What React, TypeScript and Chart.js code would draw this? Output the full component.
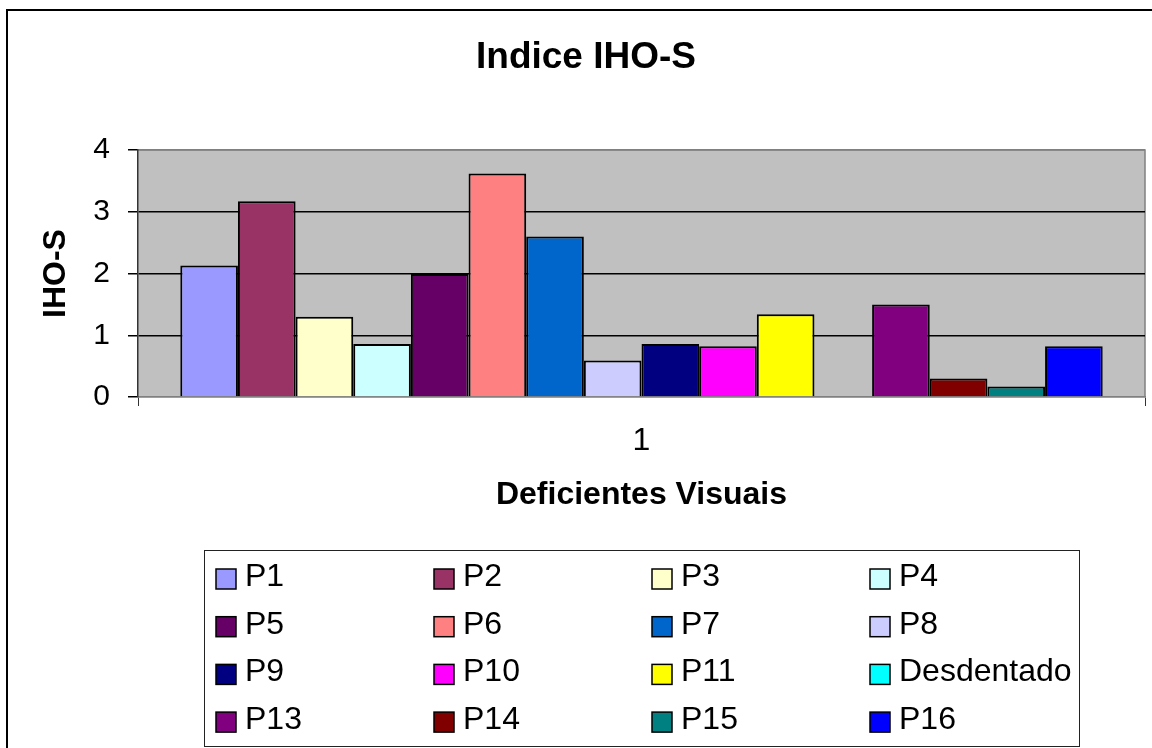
import React, { useEffect, useRef } from 'react';
import { Chart, registerables } from 'chart.js';

Chart.register(...registerables);

const categories = ['1'];
const seriesLabels = ['P1', 'P2', 'P3', 'P4', 'P5', 'P6', 'P7', 'P8', 'P9', 'P10', 'P11', 'Desdentado', 'P13', 'P14', 'P15', 'P16'];
const seriesValues = [2.13, 3.17, 1.3, 0.86, 1.99, 3.62, 2.6, 0.59, 0.86, 0.82, 1.34, 0, 1.5, 0.3, 0.17, 0.82];
const seriesColors = ['#9999FF', '#993366', '#FFFFCC', '#CCFFFF', '#660066', '#FF8080', '#0066CC', '#CCCCFF', '#000080', '#FF00FF', '#FFFF00', '#00FFFF', '#800080', '#800000', '#008080', '#0000FF'];
const yTickValues = [0, 1, 2, 3, 4];
const chartTitle = 'Indice IHO-S';
const xAxisTitle = 'Deficientes Visuais';
const yAxisTitle = 'IHO-S';

const FONT = '"Liberation Sans", Arial, Helvetica, sans-serif';

const decorPlugin = {
  id: 'decor',
  beforeDraw(chart: any) {
    const { ctx, chartArea: a } = chart;
    ctx.save();
    ctx.fillStyle = '#ffffff';
    ctx.fillRect(0, 0, chart.width, chart.height);
    ctx.fillStyle = '#C0C0C0';
    ctx.fillRect(a.left, a.top, a.right - a.left, a.bottom - a.top);
    ctx.strokeStyle = '#808080';
    ctx.lineWidth = 1.5;
    ctx.beginPath();
    ctx.moveTo(a.left, a.top);
    ctx.lineTo(a.right, a.top);
    ctx.lineTo(a.right, a.bottom);
    ctx.stroke();
    ctx.restore();
  },
  afterDraw(chart: any) {
    const { ctx } = chart;
    ctx.save();
    // outer chart border
    ctx.strokeStyle = '#000';
    ctx.lineWidth = 2;
    ctx.beginPath();
    ctx.moveTo(7, chart.height);
    ctx.lineTo(7, 10);
    ctx.lineTo(chart.width, 10);
    ctx.stroke();

    // title
    ctx.fillStyle = '#000';
    ctx.font = `bold 37px ${FONT}`;
    ctx.textAlign = 'center';
    ctx.textBaseline = 'middle';
    ctx.fillText(chartTitle, 586, 58);

    // legend
    const bx = 204.5, by = 550.5, bw = 875, bh = 196;
    ctx.strokeStyle = '#222';
    ctx.lineWidth = 1;
    ctx.strokeRect(bx, by, bw, bh);
    ctx.font = `32px ${FONT}`;
    ctx.textAlign = 'left';
    ctx.textBaseline = 'middle';
    chart.data.datasets.forEach((ds: any, i: number) => {
      const col = i % 4;
      const row = Math.floor(i / 4);
      const sx = 216 + col * 218;
      const cy = 579 + row * 47.7;
      ctx.fillStyle = ds.backgroundColor;
      ctx.fillRect(sx, cy - 10, 20, 20);
      ctx.strokeStyle = '#000';
      ctx.lineWidth = 1.5;
      ctx.strokeRect(sx, cy - 10, 20, 20);
      ctx.fillStyle = '#000';
      ctx.fillText(ds.label, sx + 29, cy - 2);
    });
    ctx.restore();
  },
};

export default function App() {
  const canvasRef = useRef<HTMLCanvasElement | null>(null);

  useEffect(() => {
    if (!canvasRef.current) return;
    const datasets = seriesLabels.map((label, i) => ({
      label,
      data: [seriesValues[i]],
      backgroundColor: seriesColors[i],
      borderColor: '#000',
      borderWidth: (c: any) => (c.raw === 0 ? 0 : 2),
      borderSkipped: 'bottom' as const,
    }));
    const chart = new Chart(canvasRef.current, {
      type: 'bar',
      data: { labels: categories, datasets },
      options: {
        animation: false,
        responsive: false,
        maintainAspectRatio: false,
        layout: { padding: { top: 150, left: 0, right: 7, bottom: 226 } },
        datasets: { bar: { categoryPercentage: 0.916, barPercentage: 1 } },
        plugins: {
          legend: { display: false },
          title: { display: false },
          tooltip: { enabled: false },
        },
        scales: {
          x: {
            afterFit: (s: any) => { s.height = 125; },
            grid: { display: true, drawOnChartArea: false, offset: true, tickLength: 9, color: '#333', tickColor: '#333' },
            border: { display: true, color: '#808080', width: 1.5 },
            ticks: { color: '#000', font: { family: FONT, size: 32 }, padding: 16 },
            title: { display: true, text: xAxisTitle, color: '#000', font: { family: FONT, size: 32, weight: 'bold' }, padding: { top: 0, bottom: 8 } },
          },
          y: {
            min: 0,
            max: 4,
            afterFit: (s: any) => { s.width = 138; },
            afterBuildTicks: (s: any) => { s.ticks = yTickValues.map((v) => ({ value: v })); },
            grid: {
              color: (c: any) => (c.tick && (c.tick.value === 0 || c.tick.value === 4) ? '#808080' : '#000'),
              tickColor: '#000',
              tickLength: 10,
              lineWidth: 1.5,
            },
            border: { display: true, color: '#333', width: 1.5 },
            ticks: { color: '#000', font: { family: FONT, size: 30 }, padding: 18 },
            title: { display: true, text: yAxisTitle, color: '#000', font: { family: FONT, size: 32, weight: 'bold' }, padding: { top: 37, bottom: 0 } },
          },
        },
      },
      plugins: [decorPlugin],
    });
    return () => chart.destroy();
  }, []);

  return (
    <div style={{ position: 'absolute', left: 0, top: 0, width: 1152, height: 748 }}>
      <canvas ref={canvasRef} width={1152} height={748} style={{ display: 'block', width: 1152, height: 748 }} />
    </div>
  );
}
